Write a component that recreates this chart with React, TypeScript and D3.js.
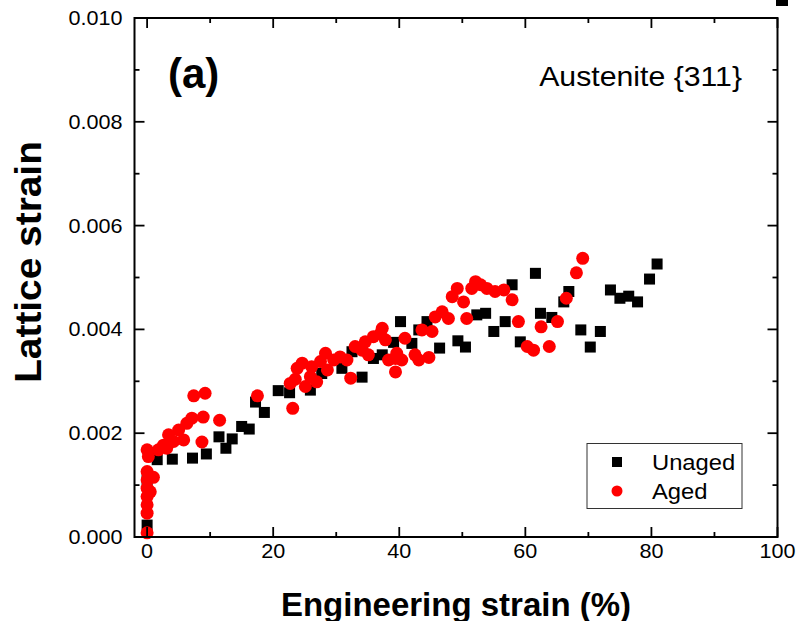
import React from "react";
import * as d3 from "d3";

const unagedX = [0, 0, 0.5, 1.6, 4.0, 7.2, 9.4, 11.4, 12.5, 13.5, 15.0, 16.2, 17.2, 18.6, 20.8, 22.6, 25.9, 27.7, 30.9, 32.5, 34.1, 35.9, 37.3, 39.1, 40.2, 42.0, 43.1, 44.4, 46.4, 49.3, 50.5, 52.3, 53.7, 55.0, 56.8, 57.9, 59.2, 61.6, 62.4, 64.2, 66.1, 66.9, 68.8, 70.3, 71.9, 73.5, 75.0, 76.4, 77.8, 79.7, 80.9];
const unagedY = [0.00023, 0.0011, 0.00163, 0.00149, 0.0015, 0.00152, 0.0016, 0.00193, 0.00171, 0.00189, 0.00213, 0.00208, 0.0026, 0.0024, 0.00282, 0.00278, 0.00283, 0.00315, 0.00325, 0.00357, 0.00308, 0.00344, 0.00351, 0.00375, 0.00415, 0.00373, 0.00399, 0.00415, 0.00364, 0.00378, 0.00366, 0.00428, 0.00431, 0.00396, 0.00415, 0.00486, 0.00376, 0.00508, 0.00431, 0.00423, 0.00453, 0.00473, 0.00399, 0.00366, 0.00396, 0.00476, 0.0046, 0.00464, 0.00453, 0.00497, 0.00526];

const agedX = [0, 0, 0, 0, 0, 0, 0, 0.5, 1.0, 0, 0.2, 1.8, 2.6, 3.1, 3.4, 4.2, 5.0, 5.8, 6.3, 7.1, 7.4, 8.7, 8.9, 9.2, 11.5, 17.5, 23.1, 22.7, 23.5, 23.8, 24.6, 25.1, 25.9, 26.1, 26.9, 27.5, 28.3, 28.6, 29.6, 30.6, 31.7, 32.3, 33.0, 34.1, 34.6, 35.1, 35.9, 37.0, 37.3, 37.8, 38.3, 39.4, 39.4, 39.6, 40.4, 40.9, 42.5, 43.1, 43.6, 44.7, 45.2, 45.7, 46.8, 47.8, 48.4, 49.2, 50.2, 50.7, 51.5, 52.1, 52.9, 53.9, 55.2, 56.6, 57.9, 58.9, 60.3, 61.3, 62.5, 63.8, 65.1, 66.5, 68.1, 69.1];
const agedY = [0.00008, 0.00046, 0.00062, 0.00078, 0.00094, 0.0011, 0.00126, 0.00087, 0.00115, 0.00168, 0.00155, 0.00168, 0.00177, 0.00171, 0.00197, 0.00184, 0.00206, 0.00187, 0.00219, 0.00229, 0.00272, 0.00183, 0.00231, 0.00277, 0.00225, 0.00272, 0.00248, 0.00296, 0.00304, 0.00325, 0.00335, 0.0029, 0.00309, 0.00328, 0.00299, 0.00338, 0.00354, 0.00322, 0.00341, 0.00347, 0.00341, 0.00306, 0.00367, 0.0036, 0.00376, 0.00351, 0.00386, 0.00392, 0.00402, 0.0038, 0.00341, 0.00344, 0.00318, 0.00354, 0.00341, 0.00383, 0.00351, 0.00341, 0.00399, 0.00346, 0.00396, 0.00424, 0.00434, 0.00421, 0.00463, 0.00479, 0.00453, 0.00421, 0.00479, 0.00492, 0.00486, 0.00479, 0.00473, 0.00476, 0.00457, 0.00415, 0.00367, 0.0036, 0.00405, 0.00367, 0.00415, 0.0046, 0.00509, 0.00537];

const xMajorTicks = [0, 20, 40, 60, 80, 100];
const xMinorTicks = [10, 30, 50, 70, 90];
const yMajorTicks = [0, 0.002, 0.004, 0.006, 0.008, 0.01];
const yMinorTicks = [0.001, 0.003, 0.005, 0.007, 0.009];
const seriesNames = ["Unaged", "Aged"];

const W = 798;
const H = 621;
const L = 134.5, R = 777.5, T = 18, B = 537;
const FONT = "'Liberation Sans', Arial, Helvetica, sans-serif";

export default function App() {
  const x = d3.scaleLinear().domain([-2, 100]).range([L, R]);
  const y = d3.scaleLinear().domain([0, 0.01]).range([B, T]);
  const fmtY = d3.format(".3f");
  const SQ = 11;
  const CR = 6.5;
  const major = 10, minor = 5;
  const sx = 1.08;

  return (
    <svg width={W} height={H} style={{ position: "absolute", left: 0, top: 0, display: "block", background: "#fff" }}>
      <rect x={0} y={0} width={W} height={H} fill="#fff" />
      {/* cropped mark from panel above */}
      <rect x={776} y={0} width={12} height={6} fill="#000" />

      {/* points */}
      <g>
        {unagedX.map((v, i) => (
          <rect key={"u" + i} x={x(v) - SQ / 2} y={y(unagedY[i]) - SQ / 2} width={SQ} height={SQ} fill="#000" />
        ))}
      </g>
      <g>
        {agedX.map((v, i) => (
          <circle key={"a" + i} cx={x(v)} cy={y(agedY[i])} r={CR} fill="#ff0000" />
        ))}
      </g>

      {/* frame */}
      <rect x={L} y={T} width={R - L} height={B - T} fill="none" stroke="#000" strokeWidth={2} />

      {/* ticks */}
      <g stroke="#000" strokeWidth={1.8}>
        {xMajorTicks.map((t) => (
          <g key={"xm" + t}>
            <line x1={x(t)} x2={x(t)} y1={B} y2={B - major} />
            <line x1={x(t)} x2={x(t)} y1={T} y2={T + major} />
          </g>
        ))}
        {xMinorTicks.map((t) => (
          <g key={"xn" + t}>
            <line x1={x(t)} x2={x(t)} y1={B} y2={B - minor} />
            <line x1={x(t)} x2={x(t)} y1={T} y2={T + minor} />
          </g>
        ))}
        {yMajorTicks.map((t) => (
          <g key={"ym" + t}>
            <line x1={L} x2={L + major} y1={y(t)} y2={y(t)} />
            <line x1={R} x2={R - major} y1={y(t)} y2={y(t)} />
          </g>
        ))}
        {yMinorTicks.map((t) => (
          <g key={"yn" + t}>
            <line x1={L} x2={L + minor} y1={y(t)} y2={y(t)} />
            <line x1={R} x2={R - minor} y1={y(t)} y2={y(t)} />
          </g>
        ))}
      </g>

      {/* tick labels */}
      <g fontFamily={FONT} fontSize={20} fill="#000">
        {xMajorTicks.map((t) => (
          <text key={"xl" + t} transform={`translate(${x(t)},${B + 21}) scale(${sx},1)`} textAnchor="middle">
            {String(t)}
          </text>
        ))}
        {yMajorTicks.map((t) => (
          <text key={"yl" + t} transform={`translate(${L - 12},${y(t) + 7}) scale(${sx},1)`} textAnchor="end">
            {fmtY(t)}
          </text>
        ))}
      </g>

      {/* axis titles */}
      <text x={(L + R) / 2} y={616} textAnchor="middle" fontFamily={FONT} fontWeight="bold" fontSize={33}>
        Engineering strain (%)
      </text>
      <text transform={`translate(41,262) rotate(-90) scale(1.05,1)`} textAnchor="middle" fontFamily={FONT} fontWeight="bold" fontSize={37}>
        Lattice strain
      </text>

      {/* annotations */}
      <text x={168} y={88} fontFamily={FONT} fontWeight="bold" fontSize={42}>(a)</text>
      <text transform={`translate(742,86) scale(${sx},1)`} textAnchor="end" fontFamily={FONT} fontSize={28}>
        Austenite {"{311}"}
      </text>

      {/* legend */}
      <rect x={587} y={443.5} width={155} height={65} fill="#fff" stroke="#333" strokeWidth={1} />
      <rect x={617 - 5} y={462 - 5} width={10} height={10} fill="#000" />
      <circle cx={617} cy={491} r={5.5} fill="#ff0000" />
      <text transform={`translate(652,469.5) scale(${sx},1)`} fontFamily={FONT} fontSize={22}>{seriesNames[0]}</text>
      <text transform={`translate(652,499) scale(${sx},1)`} fontFamily={FONT} fontSize={22}>{seriesNames[1]}</text>
    </svg>
  );
}
